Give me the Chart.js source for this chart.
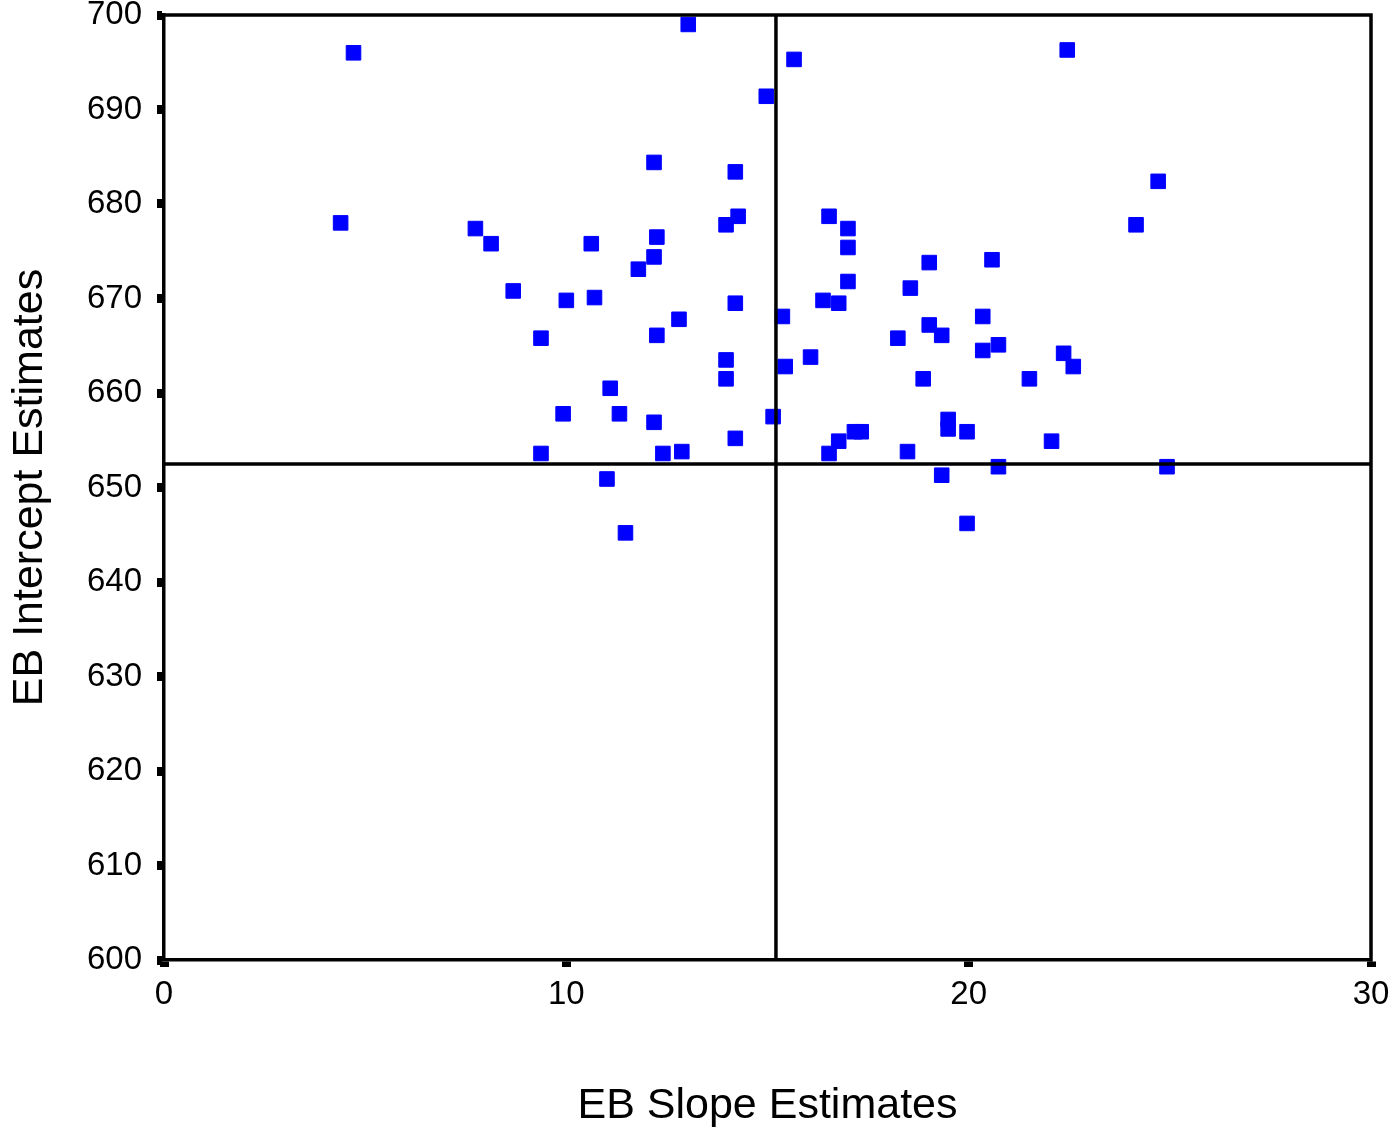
<!DOCTYPE html>
<html>
<head>
<meta charset="utf-8">
<script src="https://cdn.jsdelivr.net/npm/chart.js@4/dist/chart.umd.min.js"></script>
<style>
  html, body { margin: 0; padding: 0; background: #ffffff; }
  #wrap { width: 1395px; height: 1129px; }
</style>
</head>
<body>
<div id="wrap"><canvas id="c" width="1395" height="1129"></canvas></div>
<script>
// ---- data ----
const slopeEstimates = [
  4.71, 4.39, 13.03, 15.66, 14.97, 22.45, 24.71, 24.16, 12.18, 14.20,
  7.74, 8.13, 8.68, 10.00, 10.70, 10.62, 9.37, 11.79, 12.25, 12.18,
  12.25, 12.80, 13.97, 14.27, 14.20, 13.97, 13.97, 11.09, 9.92, 11.32,
  12.18, 9.37, 12.40, 12.87, 14.20, 15.14, 11.01, 11.47, 15.37, 15.44,
  16.07, 16.53, 17.00, 17.00, 17.00, 16.38, 16.77, 18.55, 19.02, 20.58,
  18.24, 19.02, 19.33, 20.35, 20.35, 20.74, 18.87, 21.51, 22.36, 22.60,
  19.49, 19.49, 19.96, 17.16, 17.33, 16.77, 16.53, 18.48, 22.06, 20.74,
  24.93, 19.33, 19.96
];
const interceptEstimates = [
  696.0, 678.0, 699.0, 695.3, 691.4, 696.3, 682.4, 677.8, 684.4, 683.4,
  677.4, 675.8, 670.8, 669.8, 670.1, 675.8, 665.8, 673.1, 676.5, 674.4,
  666.1, 667.8, 677.8, 678.7, 669.5, 663.5, 661.5, 660.5, 657.8, 657.8,
  656.9, 653.6, 653.6, 653.8, 655.2, 657.5, 650.9, 645.2, 668.1, 662.8,
  663.8, 678.7, 677.4, 675.4, 671.8, 669.8, 669.5, 671.1, 673.8, 674.1,
  665.8, 667.2, 666.1, 668.1, 664.5, 665.1, 661.5, 661.5, 664.2, 662.8,
  657.2, 656.2, 655.9, 655.9, 655.9, 654.9, 653.6, 653.8, 654.9, 652.2,
  652.2, 651.3, 646.2
];
const meanSlope = 15.21;       // vertical reference line
const meanIntercept = 652.5;   // horizontal reference line
const xRange = [0, 30];
const yRange = [600, 700];
const xTickStep = 10;
const yTickStep = 10;
const xTitle = 'EB Slope Estimates';
const yTitle = 'EB Intercept Estimates';

// ---- build chart ----
const points = slopeEstimates.map((s, i) => ({ x: s, y: interceptEstimates[i] }));

const framePlugin = {
  id: 'frame',
  afterDatasetsDraw(chart) {
    const { ctx, chartArea: a } = chart;
    ctx.save();
    ctx.strokeStyle = '#000';
    ctx.lineWidth = 3.5;
    ctx.beginPath();
    ctx.moveTo(a.left - 1.5, a.top);
    ctx.lineTo(a.right, a.top);
    ctx.lineTo(a.right, a.bottom + 1.5);
    ctx.stroke();
    ctx.restore();
  }
};

const tickFont = { family: '"Liberation Sans", Arial, sans-serif', size: 33 };
const titleFont = { family: '"Liberation Sans", Arial, sans-serif', size: 43 };

new Chart(document.getElementById('c'), {
  type: 'scatter',
  data: {
    datasets: [
      {
        label: 'h',
        data: [{ x: xRange[0], y: meanIntercept }, { x: xRange[1], y: meanIntercept }],
        showLine: true, borderColor: '#000', borderWidth: 3.5, pointRadius: 0, order: 0
      },
      {
        label: 'v',
        data: [{ x: meanSlope, y: yRange[0] }, { x: meanSlope, y: yRange[1] }],
        showLine: true, borderColor: '#000', borderWidth: 3.5, pointRadius: 0, order: 0
      },
      {
        label: 'EB',
        data: points,
        pointStyle: 'rect',
        pointRadius: 10.3,
        pointBorderWidth: 1,
        backgroundColor: '#0000ff',
        borderColor: '#0000ff',
        order: 1
      }
    ]
  },
  options: {
    responsive: false,
    animation: false,
    events: [],
    layout: { padding: { top: 15, right: 24, left: 0, bottom: 0 } },
    plugins: { legend: { display: false }, tooltip: { enabled: false } },
    scales: {
      x: {
        type: 'linear',
        min: xRange[0], max: xRange[1],
        border: { display: true, color: '#000', width: 3.5 },
        grid: { drawOnChartArea: false, drawTicks: true, tickLength: 7, tickWidth: 9, tickColor: '#000', color: '#000' },
        ticks: { stepSize: xTickStep, color: '#000', font: tickFont, padding: 8, maxRotation: 0 },
        title: { display: true, text: xTitle, color: '#000', font: titleFont, padding: { top: 0, bottom: -3 } },
        afterFit(scale) {
          scale.height = 169;
          scale.paddingLeft = 0; scale.paddingRight = 0;
        }
      },
      y: {
        type: 'linear',
        min: yRange[0], max: yRange[1],
        border: { display: true, color: '#000', width: 3.5 },
        grid: { drawOnChartArea: false, drawTicks: true, tickLength: 7, tickWidth: 9, tickColor: '#000', color: '#000' },
        ticks: { stepSize: yTickStep, color: '#000', font: tickFont, padding: 15 },
        title: { display: true, text: yTitle, color: '#000', font: titleFont, padding: { top: 4, bottom: 0 } },
        afterFit(scale) {
          scale.width = 164;
          scale.paddingTop = 0; scale.paddingBottom = 0;
        }
      }
    }
  },
  plugins: [framePlugin]
});
</script>
</body>
</html>
